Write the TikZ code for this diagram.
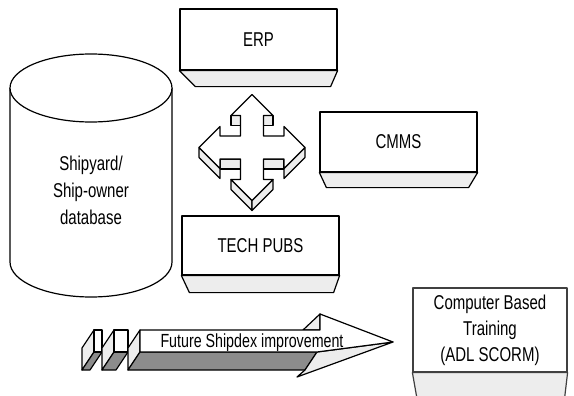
\documentclass[tikz,border=0pt]{standalone}
\usepackage{fontspec}
\setmainfont{Liberation Sans}[FakeStretch=0.75]
\usetikzlibrary{calc}
\begin{document}
\begin{tikzpicture}[x=0.5pt,y=-0.5pt, line join=round,
  ln/.style={draw=black, line width=0.6pt},
  box/.style={ln, fill=white, minimum width=78.5pt, inner sep=0pt,
    font=\fontsize{10}{13}\selectfont, align=center},
  lightface/.style={ln, fill=black!7},
  darkface/.style={ln, fill=black!45},
  lbl/.style={font=\fontsize{10}{13.5}\selectfont, align=center, inner sep=0pt}]
\useasboundingbox (0,0) rectangle (574,396);
\clip (0,0) rectangle (574,396);

% database cylinder
\draw[ln, fill=white] (10,88) -- (10,262)
  arc[start angle=180, end angle=0, x radius=81, y radius=35] -- (172,88);
\draw[ln, fill=white] (91,88) ellipse[x radius=81, y radius=34];
\node[lbl] (db) at (91,190) {Shipyard/\\Ship-owner\\database};

% 3D boxes
\node[box, minimum height=30.5pt] (erp) at (258.5,39.5) {ERP};
\draw[lightface] (erp.south west) -- (erp.south east) -- ++(-7,16)
  -- ($(erp.south west)+(16,16)$) -- cycle;

\node[box, minimum height=30pt] (cmms) at (398.5,142) {CMMS};
\draw[lightface] (cmms.south west) -- (cmms.south east) -- ++(-9,15)
  -- ($(cmms.south west)+(7,15)$) -- cycle;

\node[box, minimum height=29.5pt] (tech) at (260.5,245.5) {TECH PUBS};
\draw[lightface] (tech.south west) -- (tech.south east) -- ++(-6,17)
  -- ($(tech.south west)+(8,17)$) -- cycle;

\node[box, draw=black!75, minimum width=77pt, minimum height=42pt,
  font=\fontsize{10}{13}\selectfont] (cbt) at (490,330)
  {Computer Based\\Training\\(ADL SCORM)};
\draw[lightface, draw=black!75] (cbt.south west) -- (cbt.south east) -- ++(-4,34)
  -- ($(cbt.south west)+(6,34)$) -- cycle;

% four-way 3D arrow
\foreach \ax/\ay/\bx/\by in {231/115.5/240.5/115.5, 263.5/115.5/273/115.5,
    220/159/240.5/159, 263.5/159/284/159, 199/147.5/220/168.5,
    284/168.5/305/147.5, 231/179.5/252/200.5, 252/200.5/273/179.5}
  \draw[lightface] (\ax,\ay) -- (\bx,\by) -- (\bx,\by+10) -- (\ax,\ay+10) -- cycle;
\draw[ln, fill=white] (252,94.5) -- (273,115.5) -- (263.5,115.5) -- (263.5,136)
  -- (284,136) -- (284,126.5) -- (305,147.5) -- (284,168.5) -- (284,159)
  -- (263.5,159) -- (263.5,179.5) -- (273,179.5) -- (252,200.5) -- (231,179.5)
  -- (240.5,179.5) -- (240.5,159) -- (220,159) -- (220,168.5) -- (199,147.5)
  -- (220,126.5) -- (220,136) -- (240.5,136) -- (240.5,115.5) -- (231,115.5) -- cycle;

% future improvement arrow: two small blocks
\foreach \xl/\xr in {94/102, 114/128} {
  \draw[lightface] (\xl,330) -- (\xl,352) -- (\xl-12,370) -- (\xl-12,348) -- cycle;
  \draw[darkface] (\xl,352) -- (\xr,352) -- (\xr-12,370) -- (\xl-12,370) -- cycle;
  \draw[ln, fill=white] (\xl,330) rectangle (\xr,352);
}
% main arrow
\draw[lightface] (140,330) -- (140,352) -- (128,370) -- (128,348) -- cycle;
\draw[darkface] (140,352) -- (317,352) -- (305,370) -- (128,370) -- cycle;
\draw[lightface] (317,352) -- (393,342) -- (297,377) -- (305,370) -- cycle;
\draw[lightface] (303,330) -- (320,314) -- (320,330) -- cycle;
\draw[ln, fill=white] (140,330) -- (320,330) -- (320,314) -- (393,342)
  -- (317,352) -- (140,352) -- cycle;
\node[lbl, font=\fontsize{9.5}{12}\selectfont, anchor=base] (fsi) at (252,347.5)
  {Future Shipdex improvement};
\end{tikzpicture}
\end{document}
